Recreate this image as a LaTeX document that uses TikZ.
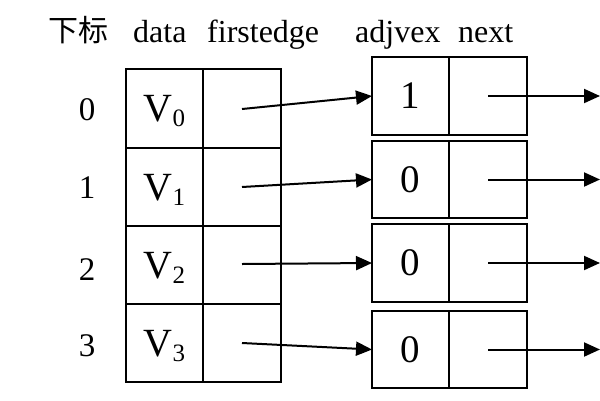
\documentclass[tikz,border=0pt]{standalone}
\usepackage{fontspec}
\setmainfont{Liberation Serif}
\newfontfamily\cjk{Noto Sans CJK SC}
\usetikzlibrary{arrows.meta}
\begin{document}
\begin{tikzpicture}[x=1pt,y=-1pt,
  cell/.style={draw, line width=2pt, inner sep=0pt, outer sep=0pt, text depth=0pt},
  hdr/.style={anchor=base west, inner sep=0pt, font=\fontsize{32}{36}\selectfont},
  idx/.style={anchor=base, inner sep=0pt, font=\fontsize{33}{36}\selectfont},
  vlab/.style={font=\fontsize{40}{44}\selectfont},
  nlab/.style={font=\fontsize{39}{42}\selectfont},
  arr/.style={line width=2pt, -{Triangle[length=16pt,width=14pt]}}]
\useasboundingbox (0,0) rectangle (600,400);
% header
\node[hdr, font=\fontsize{30}{34}\selectfont\cjk] (h0) at (48,41) {下标};
\node[hdr] (h1) at (133,42) {data};
\node[hdr] (h2) at (207,42) {firstedge};
\node[hdr] (h3) at (355,42) {adjvex};
\node[hdr] (h4) at (458,42) {next};
% index labels
\node[idx] (i0) at (87,120) {0};
\node[idx] (i1) at (87,198) {1};
\node[idx] (i2) at (87,280) {2};
\node[idx] (i3) at (87,356) {3};
% vertex table
\newcommand{\vx}[1]{V\raisebox{-5pt}{\fontsize{25}{28}\selectfont #1}}
\node[cell, vlab, minimum width=77pt, minimum height=79pt] (d0) at (164.5,108.5) {\vx{0}};
\node[cell, minimum width=78pt, minimum height=79pt] (p0) at (242,108.5) {};
\node[cell, vlab, minimum width=77pt, minimum height=78pt] (d1) at (164.5,187) {\vx{1}};
\node[cell, minimum width=78pt, minimum height=78pt] (p1) at (242,187) {};
\node[cell, vlab, minimum width=77pt, minimum height=78pt] (d2) at (164.5,265) {\vx{2}};
\node[cell, minimum width=78pt, minimum height=78pt] (p2) at (242,265) {};
\node[cell, vlab, minimum width=77pt, minimum height=78pt] (d3) at (164.5,343) {\vx{3}};
\node[cell, minimum width=78pt, minimum height=78pt] (p3) at (242,343) {};
% edge nodes
\node[cell, nlab, minimum width=77pt, minimum height=78pt] (a0) at (410.5,96) {1};
\node[cell, minimum width=78pt, minimum height=78pt] (n0) at (488,96) {};
\node[cell, nlab, minimum width=77pt, minimum height=77pt] (a1) at (410.5,179.5) {0};
\node[cell, minimum width=78pt, minimum height=77pt] (n1) at (488,179.5) {};
\node[cell, nlab, minimum width=77pt, minimum height=78pt] (a2) at (410.5,263) {0};
\node[cell, minimum width=78pt, minimum height=78pt] (n2) at (488,263) {};
\node[cell, nlab, minimum width=77pt, minimum height=77pt] (a3) at (410.5,349.5) {0};
\node[cell, minimum width=78pt, minimum height=77pt] (n3) at (488,349.5) {};
% free ends
\coordinate (e0) at (600,96);
\coordinate (e1) at (600,179.5);
\coordinate (e2) at (600,263);
\coordinate (e3) at (600,349.5);
% connectors
\draw[arr] ([yshift=-0.5pt]p0.center) -- (a0.west);
\draw[arr] (p1.center) -- (a1.west);
\draw[arr] ([yshift=1pt]p2.center) -- (a2.west);
\draw[arr] (p3.center) -- (a3.west);
\draw[arr] (n0.center) -- (e0);
\draw[arr] (n1.center) -- (e1);
\draw[arr] (n2.center) -- (e2);
\draw[arr] (n3.center) -- (e3);
\end{tikzpicture}
\end{document}
